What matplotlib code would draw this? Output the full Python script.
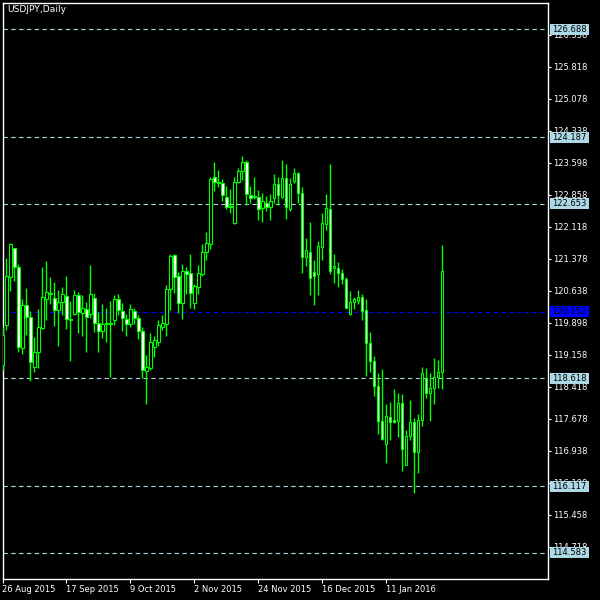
import matplotlib
matplotlib.use("Agg")
import matplotlib.pyplot as plt
from matplotlib.patches import Rectangle
from matplotlib.transforms import blended_transform_factory

symbol = "USDJPY,Daily"

# daily OHLC, 26 Aug 2015 .. 29 Jan 2016
opens = [118.92, 119.85, 120.96, 121.62, 121.18, 119.31, 120.31, 120.04, 118.87, 119.22,
         119.77, 120.45, 120.59, 120.48, 120.19, 120.38, 120.52, 119.98, 120.10, 120.53,
         120.12, 120.22, 120.09, 120.48, 119.89, 119.71, 119.86, 119.89, 119.96, 120.44,
         120.18, 119.98, 119.88, 120.16, 120.00, 119.71, 118.79, 118.86, 119.34, 119.46,
         119.81, 119.88, 120.67, 121.46, 120.98, 120.36, 121.09, 121.04, 120.36, 120.73,
         121.02, 121.54, 121.72, 123.26, 123.16, 123.12, 122.81, 122.60, 122.21, 123.16,
         123.41, 123.62, 122.85, 122.80, 122.80, 122.54, 122.67, 122.57, 122.78, 123.11,
         122.80, 123.24, 122.52, 123.18, 123.36, 122.90, 121.41, 121.54, 121.08, 121.02,
         121.64, 122.18, 122.52, 121.16, 121.16, 121.04, 120.90, 120.09, 120.37, 120.41,
         120.49, 120.19, 119.42, 119.02, 118.44, 117.63, 117.09, 117.71, 117.65, 117.63,
         118.04, 116.62, 117.28, 117.60, 116.90, 117.66, 118.61, 118.27, 118.38, 118.64,
         118.77]
highs = [119.81, 121.39, 121.75, 121.63, 121.26, 120.45, 120.70, 120.17, 119.57, 120.22,
         121.19, 121.33, 120.96, 120.84, 120.65, 120.72, 120.98, 120.40, 120.65, 120.61,
         120.55, 120.38, 121.23, 120.58, 120.15, 120.33, 120.25, 120.40, 120.55, 120.56,
         120.35, 120.10, 120.33, 120.25, 120.08, 119.81, 119.15, 119.67, 119.59, 119.96,
         120.08, 120.77, 121.49, 121.49, 121.08, 121.26, 121.19, 121.49, 120.79, 121.23,
         121.72, 121.99, 123.26, 123.61, 123.43, 123.21, 123.06, 122.98, 123.26, 123.47,
         123.75, 123.65, 123.06, 123.26, 122.97, 122.90, 122.83, 122.87, 123.34, 123.26,
         123.66, 123.57, 123.24, 123.47, 123.39, 123.03, 121.85, 122.23, 121.35, 121.79,
         122.44, 122.87, 123.57, 121.49, 121.30, 121.13, 120.96, 120.63, 120.49, 120.65,
         120.56, 120.44, 119.68, 119.14, 118.74, 118.83, 118.02, 118.06, 118.37, 118.27,
         118.25, 117.42, 118.11, 117.69, 117.79, 118.88, 118.85, 118.74, 119.08, 119.04,
         121.69]
lows = [118.81, 119.73, 120.63, 120.87, 119.23, 119.18, 119.61, 118.56, 118.77, 118.84,
        119.75, 119.95, 120.33, 119.82, 119.36, 120.08, 119.75, 119.02, 120.08, 119.67,
        119.59, 119.21, 120.00, 119.69, 119.23, 119.54, 119.46, 118.65, 119.85, 120.08,
        119.71, 119.60, 119.81, 119.87, 119.52, 118.61, 118.02, 118.81, 119.11, 119.36,
        119.73, 119.60, 120.19, 120.58, 120.13, 119.98, 120.56, 120.25, 120.21, 120.56,
        120.98, 121.35, 121.60, 122.94, 123.03, 122.72, 122.52, 122.43, 122.18, 123.13,
        123.20, 122.62, 122.67, 122.75, 122.27, 122.23, 122.49, 122.27, 122.66, 122.62,
        122.78, 122.29, 122.47, 123.12, 122.67, 121.05, 121.20, 120.55, 120.31, 120.55,
        121.35, 122.04, 121.02, 120.82, 120.72, 120.79, 120.23, 120.08, 120.22, 120.33,
        119.96, 118.67, 118.77, 118.21, 117.32, 117.19, 116.66, 117.19, 117.58, 117.26,
        116.48, 116.60, 117.19, 115.95, 116.43, 117.52, 118.15, 117.63, 118.01, 118.40,
        118.37]
closes = [119.61, 120.98, 121.72, 121.19, 119.34, 120.31, 120.03, 119.00, 119.23, 119.80,
          120.50, 120.61, 120.56, 120.19, 120.38, 120.56, 119.98, 119.95, 120.53, 120.15,
          120.25, 120.02, 120.56, 119.89, 119.71, 119.86, 119.89, 119.87, 120.44, 120.19,
          120.00, 119.88, 120.21, 120.01, 119.71, 118.81, 118.87, 119.45, 119.50, 119.85,
          119.89, 120.68, 121.44, 120.96, 120.36, 121.09, 121.02, 120.59, 120.75, 121.04,
          121.53, 121.73, 123.21, 123.16, 123.12, 122.84, 122.58, 122.57, 123.16, 123.41,
          123.61, 122.87, 122.78, 122.83, 122.52, 122.72, 122.58, 122.72, 123.11, 122.85,
          123.24, 122.58, 123.11, 123.36, 122.90, 121.42, 121.58, 120.94, 120.99, 121.67,
          122.20, 122.54, 121.10, 121.20, 121.04, 120.90, 120.25, 120.37, 120.44, 120.49,
          120.18, 119.42, 119.02, 118.44, 117.63, 117.20, 117.74, 117.61, 117.60, 118.04,
          116.97, 117.29, 117.60, 116.90, 117.65, 118.74, 118.27, 118.38, 118.65, 118.77,
          121.10]

date_ticks = [0, 16, 32, 48, 64, 80, 96]
date_labels = ["26 Aug 2015", "17 Sep 2015", "9 Oct 2015", "2 Nov 2015",
               "24 Nov 2015", "16 Dec 2015", "11 Jan 2016"]
price_ticks = [114.718, 115.458, 116.198, 116.938, 117.678, 118.418, 119.158, 119.898,
               120.638, 121.378, 122.118, 122.858, 123.598, 124.338, 125.078, 125.818, 126.558]
levels = [126.688, 124.187, 122.653, 118.618, 116.117, 114.583]
bid = 120.152

LIME = "#00ff00"
LEVEL = "#add8e6"
BLUE = "#0000ff"
FS = 6

fig = plt.figure(figsize=(6, 6), dpi=100, facecolor="black")
ax = fig.add_axes([2.5 / 600, 21 / 600, 545 / 600, 576.5 / 600], facecolor="black")

x = list(range(len(opens)))
bottoms = [min(o, c) for o, c in zip(opens, closes)]
heights = [abs(c - o) for o, c in zip(opens, closes)]
fills = ["white" if c < o else "black" for o, c in zip(opens, closes)]

ax.vlines(x, lows, highs, color=LIME, lw=1, zorder=3)
ax.bar(x, heights, bottom=bottoms, width=0.55, color=fills, edgecolor=LIME,
       linewidth=0.8, zorder=4)

for lv in levels:
    ax.axhline(lv, color=LEVEL, lw=0.8, ls=(0, (4, 3)), zorder=2)
ax.axhline(bid, color=BLUE, lw=0.8, ls=(0, (4, 3)), zorder=2)

ax.set_xlim(0.05, 136.3)
ax.set_ylim(113.973, 127.302)

ax.yaxis.tick_right()
ax.set_yticks(price_ticks)
ax.set_yticklabels([f"{p:.3f}" for p in price_ticks])
ax.tick_params(axis="y", colors="white", labelsize=FS, length=2.5, width=0.8, pad=1.5)
ax.set_xticks(date_ticks)
ax.set_xticklabels(date_labels, ha="left")
ax.tick_params(axis="x", colors="white", labelsize=FS, length=3, width=0.8, pad=1.5)
for sp in ax.spines.values():
    sp.set_color("white")
    sp.set_linewidth(1)

# price tags on the right scale (they cover the nearby scale labels, as in MT4)
tr = blended_transform_factory(fig.transFigure, ax.transData)
box_h = 11 / 43.25
for lv, fc in [(v, LEVEL) for v in levels] + [(bid, BLUE)]:
    ax.add_patch(Rectangle((550 / 600, lv - box_h / 2), 39 / 600, box_h, transform=tr,
                           facecolor=fc, edgecolor="none", clip_on=False, zorder=6))
    ax.text(552 / 600, lv, f"{lv:.3f}", transform=tr, color="black", fontsize=FS,
            va="center", ha="left", clip_on=False, zorder=7)

fig.text(7 / 600, 1 - 9.5 / 600, symbol, color="white", fontsize=6.6, va="center", ha="left")

fig.savefig("out.png", dpi=100, facecolor="black")
